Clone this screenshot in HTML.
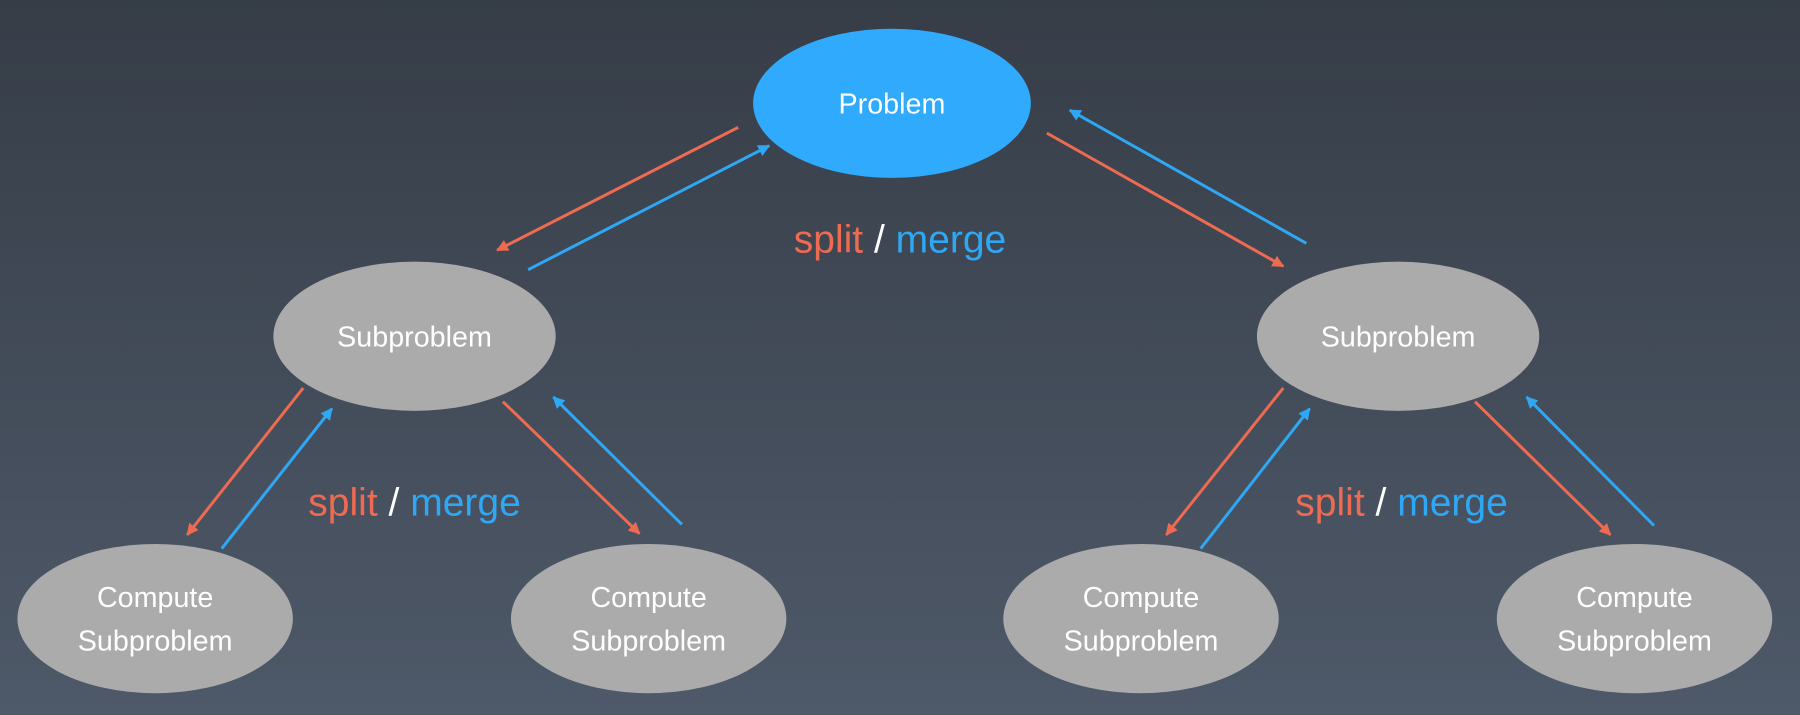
<!DOCTYPE html>
<html><head><meta charset="utf-8"><style>
html,body{margin:0;padding:0;width:1800px;height:715px;overflow:hidden;background:linear-gradient(#363d47,#4e5969);}
svg{display:block}
text{font-family:"Liberation Sans",sans-serif;}
</style></head><body>
<svg width="1800" height="715" viewBox="0 0 1568 623" xmlns="http://www.w3.org/2000/svg">
<defs>
<marker id="r" viewBox="0 0 10 10" refX="9" refY="5" markerWidth="4" markerHeight="4" orient="auto"><path d="M0,0L10,5L0,10z" fill="#ee6b52"/></marker>
<marker id="b" viewBox="0 0 10 10" refX="9" refY="5" markerWidth="4" markerHeight="4" orient="auto"><path d="M0,0L10,5L0,10z" fill="#2ea8f5"/></marker>
</defs>
<g stroke-width="2.6" fill="none">
<line x1="643" y1="111" x2="433" y2="218" stroke="#ee6b52" marker-end="url(#r)"/>
<line x1="460" y1="235" x2="670" y2="127" stroke="#2ea8f5" marker-end="url(#b)"/>
<line x1="912" y1="116" x2="1118" y2="232" stroke="#ee6b52" marker-end="url(#r)"/>
<line x1="1138" y1="212" x2="932" y2="96" stroke="#2ea8f5" marker-end="url(#b)"/>
<line x1="264" y1="338" x2="163" y2="466" stroke="#ee6b52" marker-end="url(#r)"/>
<line x1="193" y1="478" x2="289" y2="356" stroke="#2ea8f5" marker-end="url(#b)"/>
<line x1="438" y1="350" x2="557" y2="465" stroke="#ee6b52" marker-end="url(#r)"/>
<line x1="594" y1="457" x2="482" y2="346" stroke="#2ea8f5" marker-end="url(#b)"/>
<line x1="1118" y1="338" x2="1016" y2="466" stroke="#ee6b52" marker-end="url(#r)"/>
<line x1="1046" y1="478" x2="1141" y2="356" stroke="#2ea8f5" marker-end="url(#b)"/>
<line x1="1285" y1="350" x2="1403" y2="466" stroke="#ee6b52" marker-end="url(#r)"/>
<line x1="1441" y1="458" x2="1330" y2="346" stroke="#2ea8f5" marker-end="url(#b)"/>
</g>
<ellipse cx="777" cy="90" rx="121" ry="65" fill="#30aafc"/>
<ellipse cx="361" cy="293" rx="123" ry="65" fill="#ababab"/>
<ellipse cx="1218" cy="293" rx="123" ry="65" fill="#ababab"/>
<ellipse cx="135" cy="539" rx="120" ry="65" fill="#ababab"/>
<ellipse cx="565" cy="539" rx="120" ry="65" fill="#ababab"/>
<ellipse cx="994" cy="539" rx="120" ry="65" fill="#ababab"/>
<ellipse cx="1424" cy="539" rx="120" ry="65" fill="#ababab"/>
<g fill="#fff" font-size="25" text-anchor="middle">
<text x="777" y="99">Problem</text>
<text x="361" y="302">Subproblem</text>
<text x="1218" y="302">Subproblem</text>
<text x="135" y="529">Compute</text><text x="135" y="567">Subproblem</text>
<text x="565" y="529">Compute</text><text x="565" y="567">Subproblem</text>
<text x="994" y="529">Compute</text><text x="994" y="567">Subproblem</text>
<text x="1424" y="529">Compute</text><text x="1424" y="567">Subproblem</text>
</g>
<g font-size="34" text-anchor="middle">
<text x="784" y="220"><tspan fill="#ee6b52">split</tspan><tspan fill="#fff"> / </tspan><tspan fill="#2ea8f5">merge</tspan></text>
<text x="361" y="449"><tspan fill="#ee6b52">split</tspan><tspan fill="#fff"> / </tspan><tspan fill="#2ea8f5">merge</tspan></text>
<text x="1221" y="449"><tspan fill="#ee6b52">split</tspan><tspan fill="#fff"> / </tspan><tspan fill="#2ea8f5">merge</tspan></text>
</g>
</svg>
</body></html>
